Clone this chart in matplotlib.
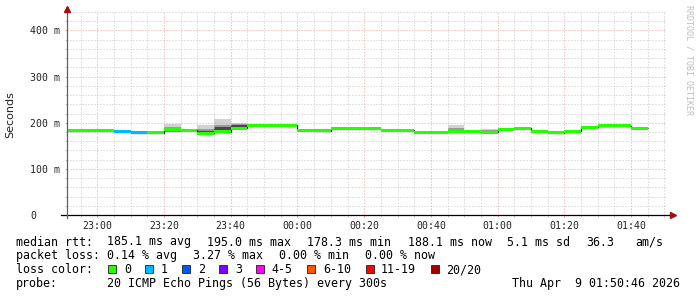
import matplotlib
matplotlib.use('Agg')
import matplotlib.pyplot as plt
from matplotlib.lines import Line2D
from matplotlib.patches import Rectangle
import numpy as np

W, H = 697, 297
MONO = 'DejaVu Sans Mono'

# time in minutes relative to 23:00, one 5-minute step per value
window = (-9.23, 170.77)            # 22:50:46 .. 01:50:46
bin_start = list(range(-10, 165, 5))
median_ms = [183, 183, 183, 180, 178.3, 178.5, 185, 184, 177.7, 180,
             188, 195, 195, 195, 183.5, 182.5, 187, 187, 187, 184,
             184, 179, 179, 182, 182, 179, 185.7, 188.5, 180, 178,
             182, 190, 193.7, 193.7, 188.1]
loss_pings = [0, 0, 0, 1, 1, 0, 0, 0, 0, 0,
              0, 0, 0, 0, 0, 0, 0, 0, 0, 0,
              0, 0, 0, 0, 0, 0, 0, 0, 0, 0,
              0, 0, 0, 0, 0]

# smoke (spread of the 20 pings) where it is visible
smoke_start = [20, 25, 30, 35, 40, 105, 115]
smoke_lo    = [179, 180, 177, 182, 189, 183, 180]
smoke_hi    = [197, 187, 194, 207, 199, 195, 187]
mid_lo      = [180.5, 181, 178, 183, 190, 184, 181]
mid_hi      = [190, 185, 187, 196, 197, 188, 184]
core_lo     = [181, 181, 178, 184, 190, 184, 181]
core_hi     = [186, 183, 181, 190, 194, 184, 181]

tick_pos    = [0, 20, 40, 60, 80, 100, 120, 140, 160]
tick_labels = ['23:00', '23:20', '23:40', '00:00', '00:20', '00:40', '01:00', '01:20', '01:40']
y_ticks     = [0, 100, 200, 300, 400]
y_labels    = ['0', '100 m', '200 m', '300 m', '400 m']

loss_names  = ['0', '1', '2', '3', '4-5', '6-10', '11-19', '20/20']
loss_colors = ['#26ff00', '#00b8ff', '#0059ff', '#7e00ff', '#ff00ff', '#ff5500', '#ff0000', '#a00000']

stats_rtt  = [185.1, 195.0, 178.3, 188.1]
stats_sd   = 5.1
stats_amps = 36.3
stats_loss = [0.14, 3.27, 0.00, 0.00]

fig = plt.figure(figsize=(W / 100, H / 100), dpi=100)
fig.patch.set_facecolor('white')
ax = fig.add_axes([66.5 / W, (H - 215) / H, 600.5 / W, 203 / H])
ax.set_xlim(*window)
ax.set_ylim(0, 440)

# grid
ax.set_xticks(tick_pos, tick_labels)
ax.set_xticks(np.arange(-5, 171, 5), minor=True)
ax.set_yticks(y_ticks, y_labels)
ax.set_yticks(np.arange(20, 441, 20), minor=True)
ax.grid(which='minor', color='#c8c8c8', lw=0.72, ls=(0, (1, 2)), zorder=0)
ax.grid(which='major', color='#e8a0a0', lw=0.72, ls=(0, (1, 2)), zorder=0)
for s in ax.spines.values():
    s.set_visible(False)
ax.tick_params(which='major', direction='out', length=1.5, width=0.72, color='#e8a0a0',
               labelsize=7.1, labelcolor='#222222', labelfontfamily=MONO)
ax.tick_params(which='minor', direction='out', length=1.5, width=0.72, color='#c8c8c8')
ax.tick_params(axis='x', pad=2.5)
ax.tick_params(axis='y', pad=24.8)
for lbl in ax.get_yticklabels():
    lbl.set_horizontalalignment('left')

# smoke
def smoke_layer(lo, hi, color):
    ax.bar(smoke_start, np.array(hi) - np.array(lo), bottom=lo, width=5,
           align='edge', color=color, lw=0, zorder=1)

smoke_layer(smoke_lo, smoke_hi, '#d2d2d2')
smoke_layer(mid_lo, mid_hi, '#9a9a9a')
smoke_layer(core_lo, core_hi, '#484848')

# median line: thin dark step + loss-coloured band
edges = bin_start + [bin_start[-1] + 5]
ax.stairs(median_ms, edges, color='#202020', lw=0.9, baseline=None, zorder=2)
band = 6.5
ax.bar(bin_start, band, bottom=np.array(median_ms) - band / 2, width=5, align='edge',
       color=[loss_colors[k] for k in loss_pings], lw=0, zorder=3)

# axes with arrows
ax.add_line(Line2D([-5 / 600, 1 + 5 / 600], [0, 0], transform=ax.transAxes,
                   color='black', lw=0.9, clip_on=False, zorder=5))
ax.add_line(Line2D([0, 0], [-3 / 203, 1 + 3 / 203], transform=ax.transAxes,
                   color='#606060', lw=0.9, clip_on=False, zorder=5))
ax.plot([0], [1 + 3 / 203], marker='^', ms=4, color='#a01010', transform=ax.transAxes,
        clip_on=False, zorder=6)
ax.plot([1 + 6 / 600], [0], marker='>', ms=4, color='#a01010', transform=ax.transAxes,
        clip_on=False, zorder=6)

# labels around the plot
def ftext(x, y, s, **kw):
    kw.setdefault('family', MONO)
    kw.setdefault('fontsize', 8.4)
    kw.setdefault('va', 'baseline')
    fig.text(x / W, 1 - y / H, s, **kw)

ftext(10, 115, 'Seconds', family='DejaVu Sans', fontsize=8, rotation=90,
      ha='center', va='center', color='#222222')
ftext(688.5, 60, 'RRDTOOL / TOBI OETIKER', fontsize=6, rotation=270,
      ha='center', va='center', color='#bdbdbd')

y1, y2, y3, y4 = 245.5, 259.3, 273.3, 287.3
ftext(16, y1, 'median rtt:')
rtt_names = ['avg', 'max', 'min', 'now']
for x, v, n in zip([107.3, 207.3, 307.3, 408.3], stats_rtt, rtt_names):
    ftext(x, y1, f'{v:.1f} ms {n}')
ftext(506.7, y1, f'{stats_sd:.1f} ms sd')
ftext(586, y1, f'{stats_amps:.1f}')
ftext(635, y1, 'am/s')

ftext(16, y2, 'packet loss:')
for x, v, n in zip([107.3, 193.3, 279.3, 365], stats_loss, rtt_names):
    ftext(x, y2, f'{v:.2f} % {n}')

ftext(16, y3, 'loss color:')
cur = 108.3
for name, col in zip(loss_names, loss_colors):
    fig.patches.append(Rectangle((cur / W, 1 - 273.3 / H), 8 / W, 8.3 / H,
                                 transform=fig.transFigure, facecolor=col,
                                 edgecolor='#202020', lw=0.6))
    ftext(cur + 15.5, y3, name)
    cur = cur + 15.5 + len(name) * 7.02 + 14.5

ftext(16, y4, 'probe:')
ftext(107.3, y4, '20 ICMP Echo Pings (56 Bytes) every 300s')
ftext(680, y4, 'Thu Apr  9 01:50:46 2026', ha='right')

fig.savefig('out.png', dpi=100, facecolor='white')
